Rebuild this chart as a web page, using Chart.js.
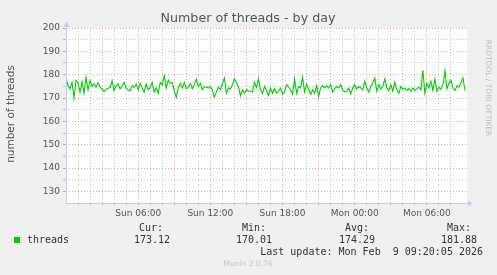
<!DOCTYPE html>
<html>
<head>
<title>Number of threads - by day</title>
<script src="https://cdn.jsdelivr.net/npm/chart.js"></script>
<style>
  body { margin: 0; background: #f0f0f0; }
  canvas { display: block; }
</style>
</head>
<body>
<canvas id="threadsChart" width="497" height="275"></canvas>
<script>
// threads, one sample every 10 minutes from Sun 00:00
const threads = [
  178.9, 175.3, 173.9, 176.7, 170.01, 177.5, 176.5, 172.5, 177.0, 172.0,
  178.9, 173.5, 177.5, 175.0, 176.0, 174.6, 176.5, 174.6, 173.8, 172.8,
  173.8, 174.2, 174.5, 177.5, 173.2, 175.3, 176.0, 173.9, 175.0, 176.8,
  174.2, 173.5, 173.0, 175.3, 174.5,
  176.0, 173.5, 176.3, 174.3, 172.5, 176.0, 173.5, 174.6, 176.7, 172.5,
  174.3, 172.0, 176.7, 175.7, 179.6, 174.3, 177.7, 176.3, 176.7, 173.2,
  170.3, 174.3, 176.3, 174.3, 176.7, 173.9, 174.6, 176.3, 173.9, 175.7,
  178.2, 174.9, 176.3, 173.5, 174.9,
  174.6, 174.3, 174.9, 173.5, 170.3, 172.5, 174.6, 173.5, 176.0, 178.6,
  172.0, 174.3, 173.9, 175.7, 178.2, 176.7, 174.9, 171.0, 173.5, 172.0,
  173.5, 172.9, 172.9, 172.6, 176.7, 174.6, 178.2, 173.5, 172.0, 174.9,
  173.2, 171.0, 174.3, 172.0, 174.0,
  172.0, 172.9, 174.3, 171.5, 172.5, 175.7, 174.9, 173.5, 171.7, 178.2,
  172.0, 174.9, 174.3, 178.9, 172.5, 176.0, 173.9, 171.5, 173.5, 172.0,
  175.3, 170.6, 174.3, 175.3, 174.3, 175.2, 174.3, 175.7, 172.5, 174.0,
  174.9, 174.3, 175.7, 173.5, 172.6,
  172.9, 174.3, 171.7, 174.3, 175.7, 173.9, 174.9, 174.3, 173.5, 177.2,
  174.3, 172.5, 174.9, 176.3, 178.6, 172.9, 175.7, 173.9, 174.9, 178.2,
  174.3, 173.2, 175.7, 172.9, 176.7, 173.5, 172.0, 174.9, 173.7, 174.3,
  173.2, 174.0, 172.9, 174.3, 173.2,
  174.0, 174.6, 173.5, 181.88, 172.0, 176.3, 174.3, 177.2, 173.2, 178.2,
  172.9, 174.6, 173.7, 175.7, 181.7, 173.9, 176.3, 177.7, 174.3, 173.2,
  175.2, 174.6, 176.7, 178.6, 173.12
];
const stepMinutes = 10;
const spanMinutes = 2000;

const tickMinutes = [360, 720, 1080, 1440, 1800];
const tickLabels = ['Sun 06:00', 'Sun 12:00', 'Sun 18:00', 'Mon 00:00', 'Mon 06:00'];

const legendHeads = ['Cur:', 'Min:', 'Avg:', 'Max:'];
const legendValues = ['173.12', '170.01', '174.29', '181.88'];

const axisColor = '#c5cdf2';
const minorGrid = 'rgba(160,160,160,0.6)';
const majorGrid = 'rgba(215,100,100,0.6)';

const points = threads.map((v, i) => ({ x: i * stepMinutes, y: v }));

const muninExtras = {
  id: 'muninExtras',
  beforeDraw(chart) {
    const { ctx, chartArea: a } = chart;
    ctx.save();
    ctx.fillStyle = '#ffffff';
    ctx.fillRect(a.left, a.top, a.right - a.left, a.bottom - a.top);
    ctx.restore();
  },
  afterDraw(chart) {
    const { ctx, chartArea: a } = chart;
    ctx.save();
    // axes with arrows
    ctx.strokeStyle = axisColor;
    ctx.fillStyle = axisColor;
    ctx.lineWidth = 1;
    ctx.beginPath();
    ctx.moveTo(a.left + 0.5, a.bottom + 0.5);
    ctx.lineTo(a.left + 0.5, a.top - 2);
    ctx.moveTo(a.left, a.bottom + 0.5);
    ctx.lineTo(a.right + 2, a.bottom + 0.5);
    ctx.stroke();
    ctx.beginPath();
    ctx.moveTo(a.left + 0.5, a.top - 7);
    ctx.lineTo(a.left - 2.5, a.top - 1);
    ctx.lineTo(a.left + 3.5, a.top - 1);
    ctx.fill();
    ctx.beginPath();
    ctx.moveTo(a.right + 6, a.bottom + 0.5);
    ctx.lineTo(a.right + 1, a.bottom - 2.5);
    ctx.lineTo(a.right + 1, a.bottom + 3.5);
    ctx.fill();

    // title
    ctx.fillStyle = '#555';
    ctx.textBaseline = 'middle';
    ctx.textAlign = 'center';
    ctx.font = '12.7px "DejaVu Sans"';
    ctx.fillText('Number of threads - by day', 248, 19);

    // y axis title
    ctx.save();
    ctx.translate(11, 114);
    ctx.rotate(-Math.PI / 2);
    ctx.font = '10.5px "DejaVu Sans"';
    ctx.fillText('number of threads', 0, 0);
    ctx.restore();

    // watermark
    ctx.save();
    ctx.translate(488, 88);
    ctx.rotate(Math.PI / 2);
    ctx.fillStyle = '#bdbdbd';
    ctx.font = '7.5px "DejaVu Sans"';
    ctx.fillText('RRDTOOL / TOBI OETIKER', 0, 0);
    ctx.restore();

    // legend
    ctx.fillStyle = '#00cc00';
    ctx.fillRect(14, 237, 6, 6);
    ctx.fillStyle = '#333';
    ctx.font = '10px "DejaVu Sans Mono"';
    ctx.textAlign = 'left';
    ctx.fillText('threads', 27, 240);
    const rights = [163, 266, 369, 471];
    const valRights = [170, 272, 375, 477];
    ctx.textAlign = 'right';
    legendHeads.forEach((h, i) => {
      ctx.fillText(h, rights[i], 228);
      ctx.fillText(legendValues[i], valRights[i], 240);
    });
    ctx.fillText('Last update: Mon Feb  9 09:20:05 2026', 483, 252);

    ctx.textAlign = 'center';
    ctx.fillStyle = '#c4c4c4';
    ctx.font = '7.5px "DejaVu Sans"';
    ctx.fillText('Munin 2.0.76', 248, 264);
    ctx.restore();
  }
};

window.onload = () => {
  new Chart(document.getElementById('threadsChart').getContext('2d'), {
    type: 'line',
    data: {
      datasets: [{
        label: 'threads',
        data: points,
        borderColor: '#00cc00',
        borderWidth: 1.1,
        pointRadius: 0,
        tension: 0,
        fill: false
      }]
    },
    options: {
      responsive: false,
      animation: false,
      devicePixelRatio: 1,
      layout: { padding: { top: 28, right: 30, left: 0, bottom: 0 } },
      plugins: { legend: { display: false }, title: { display: false }, tooltip: { enabled: false } },
      scales: {
        x: {
          type: 'linear',
          min: 0,
          max: spanMinutes,
          afterFit: (s) => { s.height = 72; },
          border: { display: false, dash: [1, 2] },
          grid: {
            color: (c) => {
              const v = c.tick.value;
              if (v <= 0 || v >= spanMinutes || v % 60 !== 0) return 'rgba(0,0,0,0)';
              return v % 180 === 0 ? majorGrid : minorGrid;
            },
            tickLength: 2,
            drawTicks: true
          },
          ticks: {
            stepSize: 60,
            maxTicksLimit: 60,
            autoSkip: false,
            maxRotation: 0,
            padding: 3,
            color: '#555',
            font: { family: 'DejaVu Sans', size: 9 },
            callback: (v) => {
              const k = tickMinutes.indexOf(v);
              return k >= 0 ? tickLabels[k] : '';
            }
          }
        },
        y: {
          min: 125,
          max: 200,
          afterFit: (s) => { s.width = 66; },
          border: { display: false, dash: [1, 2] },
          grid: {
            color: (c) => {
              const v = c.tick.value;
              if (v <= 125) return 'rgba(0,0,0,0)';
              return v % 10 === 0 ? majorGrid : minorGrid;
            },
            tickLength: 3,
            drawTicks: true
          },
          ticks: {
            stepSize: 5,
            maxTicksLimit: 40,
            autoSkip: false,
            padding: 3,
            color: '#555',
            font: { family: 'DejaVu Sans', size: 9 },
            callback: (v) => (v % 10 === 0 ? String(v) : '')
          }
        }
      }
    },
    plugins: [muninExtras]
  });
};
</script>
</body>
</html>
